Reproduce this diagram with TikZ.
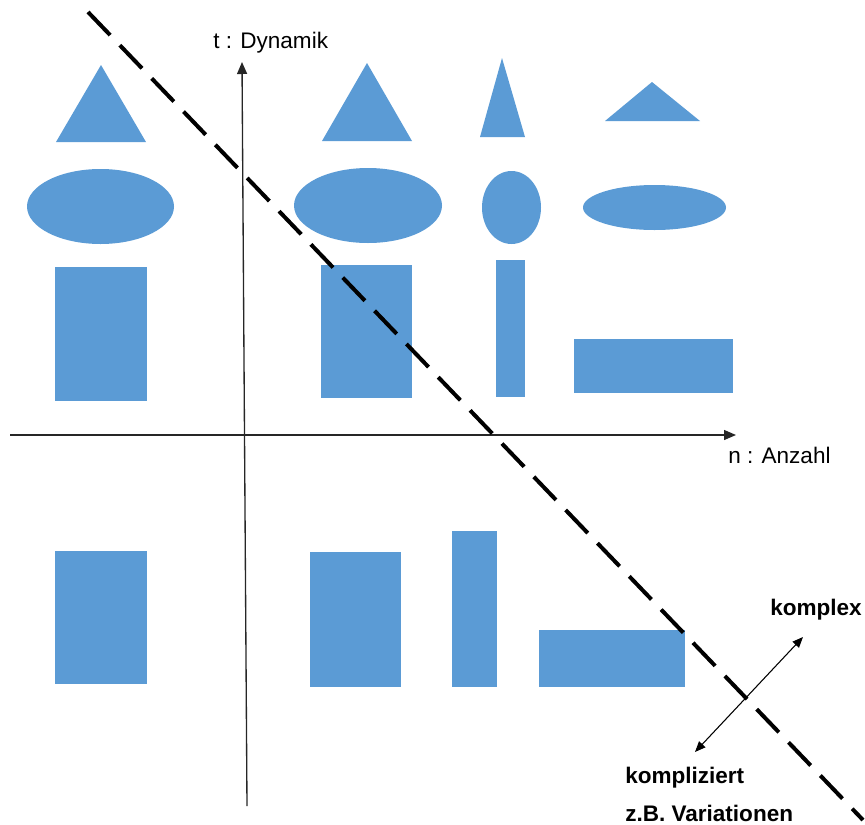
\documentclass[tikz,border=0pt]{standalone}
\usepackage{fontspec}
\setmainfont{Liberation Sans}
\usetikzlibrary{arrows.meta}
\definecolor{shapeblue}{HTML}{5B9BD5}
\begin{document}
\begin{tikzpicture}[x=0.75pt,y=-0.75pt,
  shapefill/.style={fill=shapeblue,draw=none},
  axisline/.style={line width=1pt,draw=black!85,-{Triangle[length=9pt,width=7.5pt]}},
  boundary/.style={line width=3pt,dash pattern=on 24pt off 10.5pt},
  trend/.style={line width=0.8pt,{Triangle[length=8pt,width=6.5pt]}-{Triangle[length=8pt,width=6.5pt]}},
  axislabel/.style={font=\fontsize{16.9}{20}\selectfont,inner sep=0pt,anchor=base west},
  notelabel/.style={font=\fontsize{16.9}{20}\selectfont\bfseries,inner sep=0pt,anchor=base west}]
\useasboundingbox (0,0) rectangle (865,825);

% column 1
\fill[shapefill] (101,65) -- (146,142) -- (56,142) -- cycle;
\fill[shapefill] (100.5,206.5) ellipse [x radius=73.5, y radius=37.5];
\fill[shapefill] (55,267) rectangle (147,401);
\fill[shapefill] (55,551) rectangle (147,684);

% column 2
\fill[shapefill] (367,63) -- (412,141) -- (322,141) -- cycle;
\fill[shapefill] (368,205.5) ellipse [x radius=74, y radius=37.5];
\fill[shapefill] (321,265) rectangle (412,398);
\fill[shapefill] (310,552) rectangle (401,687);

% column 3
\fill[shapefill] (502,58) -- (525,137) -- (480,137) -- cycle;
\fill[shapefill] (511.5,207.5) ellipse [x radius=29.5, y radius=36.5];
\fill[shapefill] (496,260) rectangle (525,397);
\fill[shapefill] (452,531) rectangle (497,687);

% column 4
\fill[shapefill] (652,82) -- (700,121) -- (605,121) -- cycle;
\fill[shapefill] (654.5,207.5) ellipse [x radius=71.5, y radius=22.5];
\fill[shapefill] (574,339) rectangle (733,393);
\fill[shapefill] (539,630) rectangle (685,687);

% axes
\coordinate (xstart) at (10,435);
\coordinate (xend) at (736,435);
\coordinate (ystart) at (247,806);
\coordinate (yend) at (242,62);
\draw[axisline] (xstart) -- (xend);
\draw[axisline] (ystart) -- (yend);
\node[axislabel] (tlabel) at (213,48) {t : Dynamik};
\node[axislabel] (nlabel) at (728,463) {n : Anzahl};

% separating line
\coordinate (bstart) at (88,12);
\coordinate (bend) at (863,820);
\draw[boundary] (bstart) -- (bend);

% complexity direction
\coordinate (tlow) at (695,752);
\coordinate (thigh) at (803,637);
\draw[trend] (tlow) -- (thigh);
\node[notelabel] (komplex) at (770,615) {komplex};
\node[notelabel] (kompliziert) at (625,783) {kompliziert};
\node[notelabel] (variationen) at (625,821) {z.B. Variationen};
\end{tikzpicture}
\end{document}
